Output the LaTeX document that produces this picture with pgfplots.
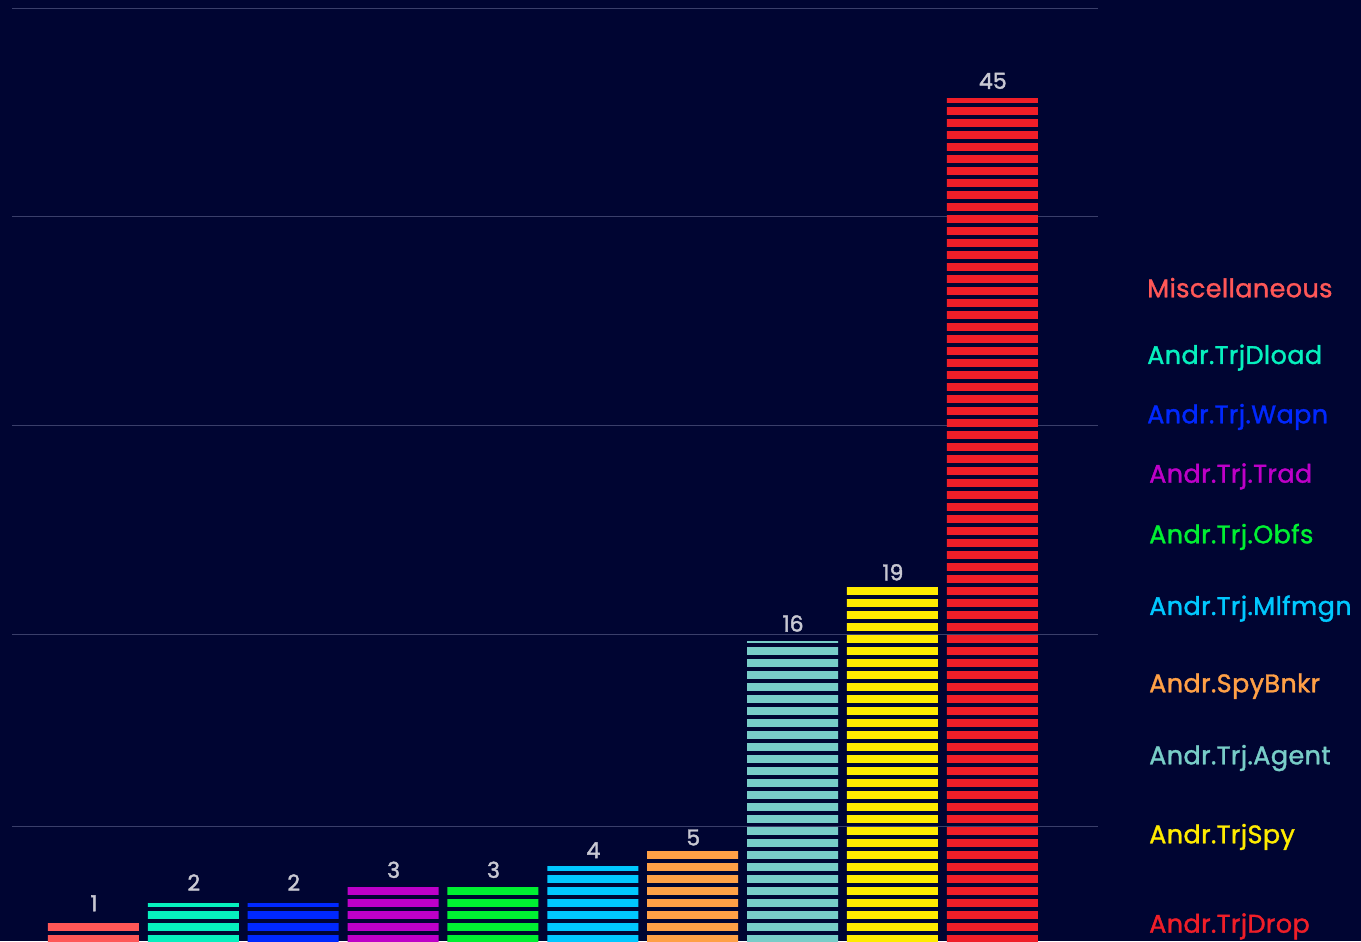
\documentclass[border=0pt]{standalone}
\usepackage{fontspec}
\setmainfont{Poppins}
\newfontfamily\medfont{Poppins}[FakeBold=1.4]
\newfontfamily\valfont{Poppins}[FakeBold=1.8]
\usepackage{pgfplots}
\pgfplotsset{compat=1.18}
\usetikzlibrary{patterns.meta}
\definecolor{bg}{HTML}{000532}
\definecolor{gridc}{HTML}{3A3F6A}
\definecolor{vlab}{HTML}{C8C8D2}
\definecolor{c1}{HTML}{FF5757}
\definecolor{c2}{HTML}{06F0BE}
\definecolor{c3}{HTML}{0028FF}
\definecolor{c4}{HTML}{BE00C8}
\definecolor{c5}{HTML}{00F032}
\definecolor{c6}{HTML}{00C8FF}
\definecolor{c7}{HTML}{FFA046}
\definecolor{c8}{HTML}{78CDC8}
\definecolor{c9}{HTML}{FFEB00}
\definecolor{c10}{HTML}{F01E28}
\pgfplotsset{
  stripe/.style={fill=none, draw=none,
    pattern={Lines[angle=0,distance=12bp,line width=7.4bp,yshift=2bp]},
    pattern color=#1}
}
\begin{document}
\begin{tikzpicture}[x=1bp,y=1bp]
\fill[bg] (0,0) rectangle (1361,941);
\useasboundingbox (0,0) rectangle (1361,941);
\begin{axis}[
  at={(12,0)}, anchor=south west,
  scale only axis,
  width=1085.7bp, height=932.7bp,
  xmin=-0.816, xmax=10.055,
  ymin=0, ymax=49.84,
  axis line style={draw=none},
  tick style={draw=none},
  xtick=\empty,
  ytick={6.11,16.37,27.53,38.69,49.84},
  yticklabels={},
  ymajorgrids,
  major grid style={color=gridc, line width=1bp},
  ybar, bar width=91bp, bar shift=0pt,
  /pgf/number format/assume math mode=true,
  nodes near coords,
  nodes near coords style={anchor=base, xshift=0.5bp, text=vlab,
    font=\valfont\fontsize{22bp}{26bp}\selectfont},
  clip=false,
]
\addplot[stripe=c1,  nodes near coords style={yshift=11bp}]  coordinates {(0,1)};
\addplot[stripe=c2,  nodes near coords style={yshift=13bp}]  coordinates {(1,2)};
\addplot[stripe=c3,  nodes near coords style={yshift=13bp}]  coordinates {(2,2)};
\addplot[stripe=c4,  nodes near coords style={yshift=7bp}]   coordinates {(3,3)};
\addplot[stripe=c5,  nodes near coords style={yshift=7bp}]   coordinates {(4,3)};
\addplot[stripe=c6,  nodes near coords style={yshift=8bp}]   coordinates {(5,4)};
\addplot[stripe=c7,  nodes near coords style={yshift=2bp}]   coordinates {(6,5)};
\addplot[stripe=c8,  nodes near coords style={yshift=10bp}]  coordinates {(7,16)};
\addplot[stripe=c9,  nodes near coords style={yshift=5bp}]   coordinates {(8,19)};
\addplot[stripe=c10, nodes near coords style={yshift=10bp}]  coordinates {(9,45)};
\end{axis}
\begin{scope}[every node/.style={anchor=base west, inner sep=0pt,
    font=\medfont\fontsize{25.5bp}{30bp}\selectfont\addfontfeatures{LetterSpace=1.5}}]
\node[text=c1]  at (1147,643.7) {Miscellaneous};
\node[text=c2]  at (1147,577.0) {Andr.TrjDload};
\node[text=c3]  at (1147,517.7) {Andr.Trj.Wapn};
\node[text=c4]  at (1149,458.3) {Andr.Trj.Trad};
\node[text=c5]  at (1149,397.7) {Andr.Trj.Obfs};
\node[text=c6]  at (1149,326.0) {Andr.Trj.Mlfmgn};
\node[text=c7]  at (1149,248.7) {Andr.SpyBnkr};
\node[text=c8]  at (1149,176.7) {Andr.Trj.Agent};
\node[text=c9]  at (1149,97.7)  {Andr.TrjSpy};
\node[text=c10] at (1149,8.3)   {Andr.TrjDrop};
\end{scope}
\end{tikzpicture}
\end{document}
